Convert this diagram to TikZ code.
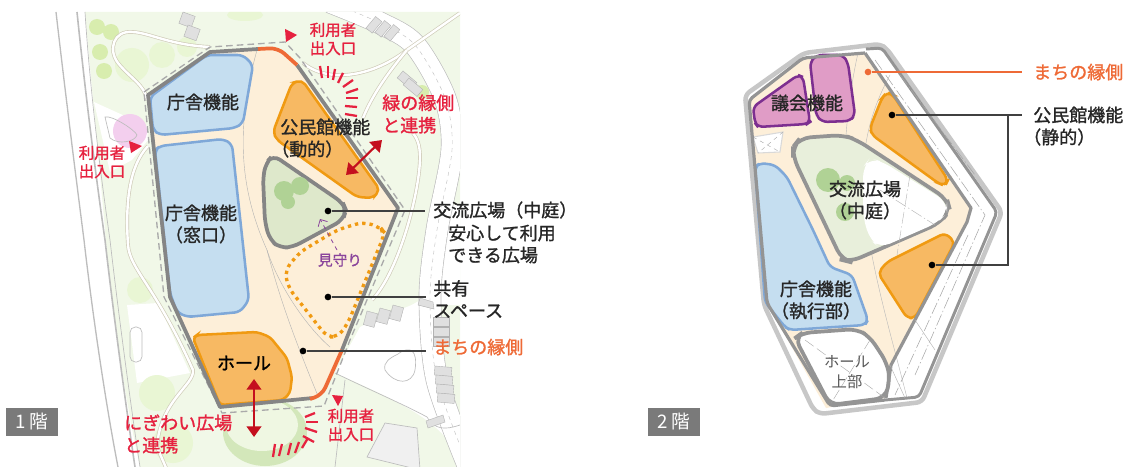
\documentclass[tikz,border=0pt]{standalone}
\usepackage{fontspec}
\usetikzlibrary{arrows.meta}
\setmainfont{Noto Sans CJK JP}[FakeBold=1.3]
\newfontfamily\jplight{Noto Sans CJK JP}
\definecolor{floorbg}{HTML}{FDEFD9}
\definecolor{sitebg}{HTML}{F1F8E8}
\definecolor{roombl}{HTML}{C5DEF0}
\definecolor{edgebl}{HTML}{7FA8D8}
\definecolor{roomor}{HTML}{F7B963}
\definecolor{edgeor}{HTML}{F09A12}
\definecolor{roompk}{HTML}{E09CC6}
\definecolor{edgepk}{HTML}{7D2F90}
\definecolor{courtgr}{HTML}{DEE8CB}
\definecolor{treegr}{HTML}{B0D295}
\definecolor{treelm}{HTML}{D8EDAE}
\definecolor{treepl}{HTML}{E9F6D4}
\definecolor{hillgr}{HTML}{D3E7BA}
\definecolor{pinkpl}{HTML}{F3CFEE}
\definecolor{wallgr}{HTML}{858585}
\definecolor{redlb}{HTML}{E6213F}
\definecolor{redar}{HTML}{C40F1E}
\definecolor{machi}{HTML}{EE6A36}
\definecolor{roadgr}{HTML}{BDBDBD}
\definecolor{pathtn}{HTML}{CFCBB8}
\tikzset{
  room/.style={line width=1.9pt,rounded corners=4pt},
  bluerm/.style={room,fill=roombl,draw=edgebl},
  orangerm/.style={room,fill=roomor,draw=edgeor},
  pinkrm/.style={room,fill=roompk,draw=edgepk},
  wall/.style={line width=2.8pt,draw=wallgr},
  road/.style={draw=roadgr,line width=0.5pt},
  walkway/.style={double=white,draw=pathtn,line width=0.5pt,double distance=1.8pt},
  lot/.style={fill=black!12,draw=black!30,line width=0.3pt},
  leader/.style={draw=black!75,line width=0.9pt},
  dot/.style={circle,fill=black,inner sep=0pt,minimum size=5pt},
  lab/.style={font=\fontsize{13.5pt}{16.5pt}\selectfont,text=black!85,align=left,inner sep=0pt},
  redtxt/.style={font=\fontsize{11.6pt}{13.8pt}\selectfont,text=redlb,align=center,inner sep=0pt},
  bigred/.style={font=\fontsize{13.5pt}{16.8pt}\selectfont,text=redlb,align=left,inner sep=0pt},
  pointer/.style={fill=redlb,draw=none},
  tick/.style={draw=redlb,line width=1.7pt},
  twoway/.style={draw=redar,line width=1.6pt,{Triangle[length=8pt,width=11pt]}-{Triangle[length=8pt,width=11pt]}},
  floortag/.style={fill=black!52,text=white,minimum width=39pt,minimum height=21pt,inner sep=0pt,font=\fontsize{14pt}{14pt}\selectfont},
}
\begin{document}
\begin{tikzpicture}[x=0.75pt,y=-0.75pt]
  \useasboundingbox (0,0) rectangle (1131,467);
  % 1F site
  \begin{scope}
    \clip (85,12) -- (460,12) -- (460,467) -- (140,467) .. controls (125,400) and (110,300) .. (105,230) .. controls (98,150) and (90,70) .. (85,12) -- cycle;
    \fill[sitebg] (60,0) rectangle (470,470);
    \fill[white] (94,102) -- (147,126) -- (148,140) -- (132,160) -- (110,172) -- cycle;
    \fill[white] (127,305) -- (158,303) -- (190,373) -- (137,383) -- cycle;
    \draw[road,rounded corners=4pt] (130,327) rectangle (142,362);
    % trees
    \foreach \tx/\ty/\tr in {132/65/17,162/55/13,187/47/10,140/290/13,157/393/18,173/443/20}
      \fill[treepl] (\tx,\ty) circle (\tr);
    \foreach \tx/\ty/\tr in {97/27/8,111/32/8,100/52/8,104/71/8,422/92/7}
      \fill[treelm] (\tx,\ty) circle (\tr);
    \fill[treepl] (245,15) ellipse (18 and 6);
    \fill[hillgr] (265,432) ellipse (42 and 34);
    \fill[sitebg!70!treepl] (262,425) ellipse (36 and 26);
    \fill[pinkpl] (130,131) circle (17);
    \draw[road] (105,117) .. controls (112,115) and (135,130) .. (137,135) .. controls (135,142) and (118,145) .. (110,138) -- cycle;
    % white plaza and ring road
    \fill[white] (360,327) -- (395,310) .. controls (410,308) and (420,300) .. (424,297) .. controls (424,340) and (430,380) .. (460,440) -- (460,457) .. controls (440,425) and (420,410) .. (335,373) -- cycle;
    \fill[white] (432,205) -- (462,205) -- (462,305) -- (425,305) -- cycle;
    \draw[double=white,draw=roadgr,line width=0.5pt,double distance=16pt] plot[smooth] coordinates {(330,2) (380,23) (415,45) (445,98) (452,150) (437,230) (430,297) (437,380) (470,470)};
    \draw[road,dashed,line width=0.3pt] plot[smooth] coordinates {(330,2) (380,23) (415,45) (445,98) (452,150) (437,230) (430,297) (437,380) (470,470)};
    % paths
    \draw[walkway] (210,47) .. controls (170,45) and (150,33) .. (133,32) .. controls (113,30) and (108,50) .. (118,63) .. controls (130,78) and (145,85) .. (147,100);
    \draw[walkway] (148,146) .. controls (130,165) and (125,200) .. (128,245) .. controls (130,270) and (155,285) .. (193,370) .. controls (195,385) and (160,400) .. (157,447) -- (167,470);
    \draw[walkway] (303,63) .. controls (330,85) and (375,75) .. (407,50) -- (460,13);
    \draw[walkway] (363,118) .. controls (372,95) and (390,70) .. (407,50);
    \draw[walkway] (372,300) .. controls (400,270) and (420,190) .. (420,157) .. controls (420,145) and (417,138) .. (413,133);
    \draw[road] (335,373) .. controls (370,390) and (405,405) .. (427,417) .. controls (435,430) and (445,430) .. (460,425);
    \draw[road] (345,380) -- (335,467);
    \draw[road,fill=black!6] (385,423) -- (417,428) -- (420,470) -- (367,457) -- cycle;
    \draw[road,fill=white] (398,354) .. controls (410,345) and (418,350) .. (415,370) .. controls (412,385) and (395,385) .. (385,370) .. controls (383,362) and (390,358) .. (398,354) -- cycle;
    % parking lots
    \foreach \la in {0,1,2}
      \draw[lot,shift={(366+\la*9,28+\la*4)},rotate=50] (0,0) rectangle (15,8);
    \foreach \la in {0,1}
      \draw[lot,shift={(403+\la*6,71+\la*7)},rotate=-40] (0,0) rectangle (18,9);
    \foreach \la in {0,1,2}
      \draw[lot,shift={(367+\la*13,311-\la*3)},rotate=-15] (0,0) rectangle (11,14);
    \foreach \la in {0,1,2}
      \draw[lot,shift={(433,317+\la*10)}] (0,0) rectangle (16,9);
    \foreach \la in {0,1,2,3}
      \draw[lot,shift={(435+\la*1,366+\la*9)},rotate=-5] (0,0) rectangle (17,9);
    \foreach \la in {0,1}
      \draw[lot,shift={(183+\la*5,12+\la*13)},rotate=-20] (0,0) rectangle (13,12);
    \draw[lot] (420,298) -- (433,302) -- (434,309) -- (418,305) -- cycle;
    \draw[lot] (426,421) -- (443,415) -- (445,422) -- (428,428) -- cycle;
  \end{scope}
  \draw[road,line width=1pt] (56,12) .. controls (65,90) and (75,170) .. (84,240) .. controls (92,310) and (105,400) .. (118,467);
  \draw[road,line width=1.2pt] (77,12) .. controls (85,90) and (95,170) .. (105,240) .. controls (113,310) and (125,400) .. (135,467);
  \draw[road] (85,12) .. controls (90,90) and (100,170) .. (110,240) .. controls (118,310) and (130,400) .. (140,467);
  % 1F outer line and floor
  \draw[wallgr!70,line width=1pt,dash pattern=on 5pt off 3pt] (144,92) -- (210,47) -- (285,42) -- (300,58) -- (405,210) -- (350,340) -- (324,406) -- (222,413) -- (164,297) -- cycle;
  \fill[floorbg] (148,95) -- (210,52) -- (278,48) -- (297,65) -- (398,208) -- (342,350) -- (322,395) -- (310,400) -- (220,407) -- (170,297) -- cycle;
  \draw[black!30,line width=0.3pt] (257,50) .. controls (235,130) and (240,190) .. (267,250) .. controls (280,300) and (295,340) .. (318,396);
  \draw[black!30,line width=0.3pt] (267,250) .. controls (280,290) and (310,330) .. (330,347);
  % 1F rooms
  \draw[bluerm] (150,97) -- (207,55) -- (243,55) -- (253,65) -- (243,123) -- (235,128) -- (160,135) -- (153,130) -- cycle;
  \draw[bluerm] (155,150) -- (160,146) -- (223,139) -- (232,144) -- (249,300) -- (240,312) -- (187,317) -- (177,312) -- (170,293) -- cycle;
  \draw[orangerm] (292,83) -- (302,80) -- (380,190) -- (373,198) -- (357,197) -- (277,140) -- (273,132) -- cycle;
  \draw[wall,fill=courtgr,rounded corners=6pt] (273,155) -- (266,163) -- (263,177) -- (265,223) -- (270,240) -- (280,248) -- (293,247) -- (343,220) -- (346,210) -- (343,203) -- cycle;
  \fill[treegr] (284,191) circle (10);
  \fill[treegr] (300,186) circle (9);
  \fill[treegr] (288,202) circle (7);
  \draw[edgeor,line width=2.5pt,dash pattern=on 2.5pt off 3pt,rounded corners=6pt] (285,270) -- (288,287) -- (327,337) -- (338,337) -- (348,323) -- (385,233) -- (380,227) -- (363,222) -- (337,230) -- (300,252) -- cycle;
  \draw[orangerm,rounded corners=3pt] (193,338) -- (197,335) -- (257,332) -- (270,337) -- (287,358) -- (292,377) -- (290,393) -- (283,400) -- (220,405) -- cycle;
  % 1F wall
  \draw[wall,line join=round] (258,49) -- (210,52) -- (148,95) -- (170,297) -- (220,407) -- (313,398);
  \draw[wall,line join=round] (297,65) -- (398,208) -- (342,350);
  \draw[machi,line width=2.8pt,rounded corners=6pt] (258,49) -- (278,48) -- (297,65);
  \draw[machi,line width=2.8pt,rounded corners=6pt] (342,350) -- (322,395) -- (310,399);
  % 1F markers
  \fill[pointer] (129,141) -- (142,146) -- (131,153) -- cycle;
  \fill[pointer] (285,29) -- (297,35) -- (286,42) -- cycle;
  \fill[pointer] (332,395) -- (343,396) -- (338,406) -- cycle;
  \foreach \xa/\ya/\xb/\yb in {320/66/322/78,328/66/328/78,335/69/333/80,343/73/338/83,353/80/343/87,358/89/346/93,358/98/346/98,357/107/345/106,357/116/345/114}
    \draw[tick] (\xa,\ya) -- (\xb,\yb);
  \foreach \xa/\ya/\xb/\yb in {273/457/275/444,279/456/282/444,288/455/291/443,295/453/299/442,302/448/308/438,303/436/314/442,305/428/317/432,306/422/318/422,305/417/315/413}
    \draw[tick] (\xa,\ya) -- (\xb,\yb);
  \coordinate (greenA) at (382,140);
  \coordinate (greenB) at (346,175);
  \coordinate (plazaA) at (254,379);
  \coordinate (plazaB) at (254,437);
  \draw[twoway] (greenA) -- (greenB);
  \draw[twoway] (plazaA) -- (plazaB);
  \coordinate (watchA) at (337,250);
  \coordinate (watchB) at (320,219);
  \draw[edgepk!90,dashed,line width=0.6pt,-{Straight Barb[length=4pt]}] (watchA) -- (watchB);
  % 1F labels
  \node[lab] (office) at (203,102) {庁舎機能};
  \node[lab,align=center] (window) at (201,224) {庁舎機能\\（窓口）};
  \node[lab,anchor=west] (kominA) at (280,127) {公民館機能};
  \node[lab,anchor=west] (kominB) at (271,149) {（動的）};
  \node[lab,font=\fontsize{13.5pt}{16pt}\selectfont,text=black] (hall) at (244,363) {ホール};
  \node[redtxt] (entryL) at (102,162) {利用者\\出入口};
  \node[redtxt] (entryT) at (333,39) {利用者\\出入口};
  \node[redtxt] (entryB) at (351,425) {利用者\\出入口};
  \node[bigred,anchor=west] (greenside) at (382,114) {緑の縁側\\と連携};
  \node[bigred,anchor=west] (plazaside) at (124,434) {にぎわい広場\\と連携};
  \node[font=\fontsize{11pt}{13pt}\selectfont,text=edgepk!90,inner sep=0pt] (watch) at (340,260) {見守り};
  \node[lab,anchor=west] (court) at (433,210) {交流広場（中庭）};
  \node[lab,anchor=west] (safe) at (448,244) {安心して利用\\できる広場};
  \node[lab,anchor=west] (shared) at (433,299) {共有\\スペース};
  \node[lab,anchor=west,text=machi] (edgeA) at (433,347) {まちの縁側};
  \node[dot] (dotcourt) at (328,211) {};
  \node[dot] (dotshare) at (328,297) {};
  \node[dot] (dotedge) at (303,351) {};
  \coordinate (endcourt) at (425,211);
  \coordinate (endshare) at (426,297);
  \coordinate (endedge) at (426,351);
  \draw[leader] (dotcourt) -- (endcourt);
  \draw[leader] (dotshare) -- (endshare);
  \draw[leader] (dotedge) -- (endedge);
  \node[floortag] (tagA) at (32,422) {\jplight 1 階};
  % 2F shell
  \draw[fill=white,draw=black!22,line width=3.4pt,rounded corners=4pt] (745,95) -- (804,53) -- (880,44) -- (887,49) -- (1002,212) -- (922,402) -- (820,414) -- (813,409) -- (764,305) -- cycle;
  \fill[floorbg] (748,102) -- (803,58) -- (865,53) -- (971,208) -- (968,220) -- (891,365) -- (885,398) -- (826,408) -- (767,303) -- cycle;
  \draw[black!28,line width=0.3pt] (858,53) .. controls (843,120) and (840,200) .. (850,262);
  \draw[black!28,line width=0.3pt] (890,75) .. controls (860,130) and (858,180) .. (870,245) .. controls (880,300) and (895,350) .. (907,398);
  % 2F rooms
  \draw[pinkrm] (753,107) -- (798,75) -- (803,77) -- (810,122) -- (807,124) -- (758,127) -- (755,123) -- cycle;
  \draw[pinkrm] (810,62) -- (817,55) -- (843,55) -- (848,63) -- (855,115) -- (850,121) -- (822,122) -- (816,115) -- cycle;
  \draw[draw=black!15,fill=white,line width=0.8pt] (753,137) -- (783,132) -- (780,152) -- (758,153) -- cycle;
  \draw[black!35,line width=0.3pt,dashed] (753,137) -- (780,152) (783,132) -- (758,153);
  \draw[bluerm] (755,167) -- (760,163) -- (775,165) -- (787,177) -- (813,230) -- (830,267) -- (852,275) -- (868,320) -- (865,325) -- (790,330) -- (785,327) -- (765,302) -- cycle;
  \draw[wall,draw=black!42,fill=courtgr!70!white,rounded corners=8pt] (793,147) -- (800,138) -- (843,135) -- (857,140) -- (947,199) -- (950,210) -- (940,223) -- (850,262) -- (842,260) -- (793,157) -- cycle;
  \fill[white,rounded corners=8pt] (863,167) -- (870,158) -- (883,162) -- (947,202) -- (947,213) -- (937,223) -- (880,248) -- (870,240) -- (863,217) -- cycle;
  \fill[treegr] (828,180) circle (12);
  \fill[treegr] (847,183) circle (8);
  \fill[treegr] (845,212) circle (9);
  \draw[black!30,line width=0.3pt,dash pattern=on 9pt off 2pt on 1pt off 2pt] (910,175) -- (897,255) (880,190) -- (935,225);
  \draw[orangerm] (887,92) -- (893,95) -- (948,180) -- (945,186) -- (938,183) -- (872,135) -- (870,128) -- (882,98) -- cycle;
  \draw[orangerm] (887,262) -- (945,233) -- (955,242) -- (915,318) -- (907,318) -- (878,273) -- cycle;
  \draw[wall,draw=black!42,fill=white,rounded corners=7pt] (795,338) -- (802,333) -- (857,329) -- (870,337) -- (887,363) -- (890,380) -- (885,398) -- (830,405) -- cycle;
  \draw[black!35,line width=0.3pt,dash pattern=on 8pt off 3pt] (805,340) -- (885,398) (870,340) -- (830,405);
  % 2F wall
  \draw[draw=black!42,line width=2.4pt,line join=round,rounded corners=3pt] (885,400) -- (830,406) -- (767,303) -- (749,100) -- (803,58) -- (865,53);
  \draw[draw=black!42,line width=2.4pt,line join=round] (865,53) -- (971,208) -- (967,222) -- (891,365) -- (886,398);
  \draw[draw=black!42,line width=2.2pt,line join=round,rounded corners=3pt] (866,49) -- (882,48) -- (997,212) -- (919,397) -- (885,400);
  \draw[black!35,line width=0.4pt,dash pattern=on 9pt off 2pt on 1pt off 2pt] (875,60) -- (985,215) -- (915,375);
  \draw[black!35,line width=0.4pt,dash pattern=on 9pt off 2pt on 1pt off 2pt] (900,75) -- (975,175) (968,235) -- (895,395);
  \draw[black!30,line width=0.3pt] (915,320) -- (935,350) (890,365) -- (905,398);
  % 2F labels
  \node[lab] (assembly) at (807,103) {議会機能};
  \node[lab,align=center] (courtB) at (865,200) {交流広場\\（中庭）};
  \node[lab,align=center] (exec) at (816,300) {庁舎機能\\（執行部）};
  \node[font=\jplight\fontsize{11.5pt}{15pt}\selectfont,text=black!65,align=center,inner sep=0pt] (hallB) at (847,372) {ホール\\上部};
  \node[lab,anchor=west,text=machi] (edgeB) at (1033,72) {まちの縁側};
  \node[lab,anchor=west] (kominC) at (1033,115) {公民館機能};
  \node[lab,anchor=west] (kominD) at (1023,137) {（静的）};
  \node[circle,fill=machi,inner sep=0pt,minimum size=5pt] (dotmachi) at (868,72) {};
  \node[dot] (dotor) at (892,115) {};
  \node[dot] (dotorb) at (932,265) {};
  \coordinate (endmachi) at (1022,72);
  \coordinate (endkomin) at (1022,115);
  \coordinate (branch) at (1008,115);
  \coordinate (corner) at (1008,265);
  \draw[machi,line width=0.9pt] (dotmachi) -- (endmachi);
  \draw[leader] (dotor) -- (endkomin);
  \draw[leader] (branch) -- (corner) -- (dotorb);
  \node[floortag] (tagB) at (674,422) {\jplight 2 階};
\end{tikzpicture}
\end{document}
